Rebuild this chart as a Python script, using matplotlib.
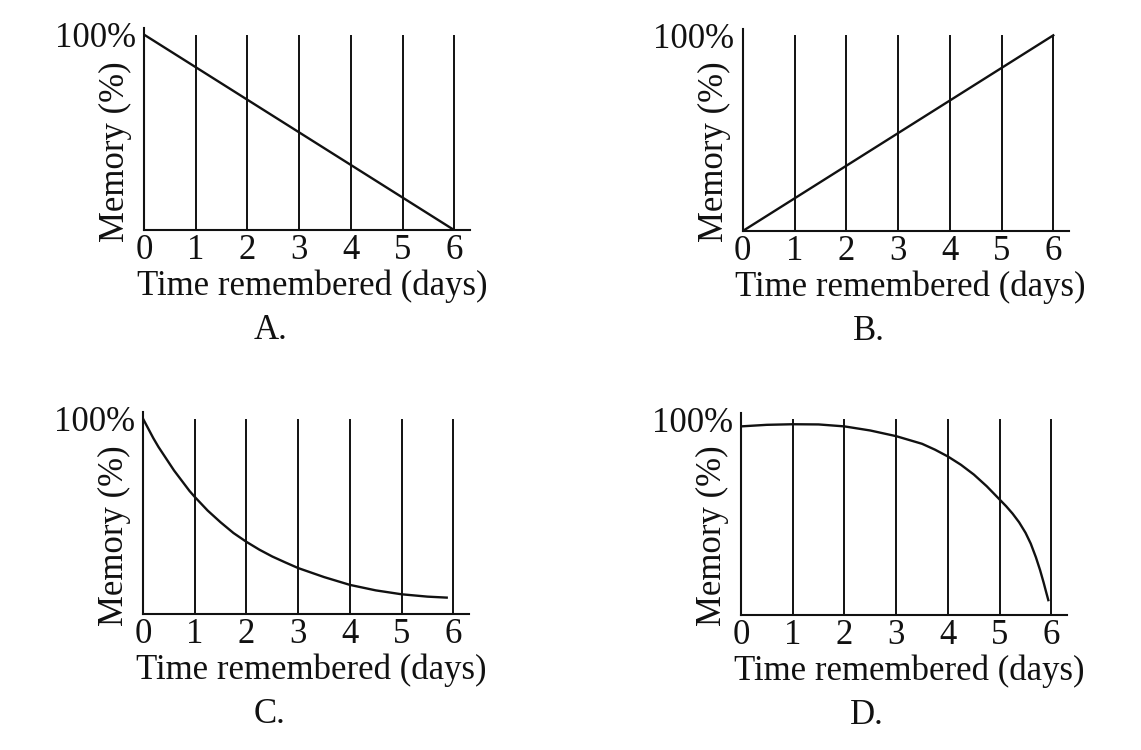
import numpy as np
import matplotlib
matplotlib.use("Agg")
from matplotlib import pyplot as plt

plt.rcParams['font.family'] = ['Liberation Serif', 'DejaVu Serif']

# values (memory in % against days)
days = [0, 1, 2, 3, 4, 5, 6]
day_labels = ['0', '1', '2', '3', '4', '5', '6']

a_x = [0, 6]
a_y = [100, 0]

b_x = [0, 6]
b_y = [0, 100]

c_x = [0, 0.1, 0.2, 0.3, 0.4, 0.5, 0.6, 0.7, 0.8, 0.9, 1, 1.25, 1.5, 1.75,
       2, 2.25, 2.5, 2.75, 3, 3.5, 4, 4.5, 5, 5.5, 5.87]
c_y = [100, 95, 90, 85.5, 81.5, 77.5, 73.5, 70, 66.5, 63, 60, 53, 47, 41.5,
       37, 33, 29.5, 26.5, 23.6, 19, 15, 12.2, 10.2, 9, 8.5]

d_x = [0, 0.5, 1, 1.5, 2, 2.5, 3, 3.5, 3.75, 4, 4.25, 4.5, 4.75, 5, 5.125,
       5.25, 5.375, 5.5, 5.6, 5.7, 5.78, 5.85, 5.9, 5.94]
d_y = [96.4, 97.2, 97.5, 97.4, 96.4, 94.3, 91.4, 87.5, 84.5, 81, 76.8, 71.8,
       65.8, 59, 55.6, 51.8, 47.4, 42, 36.5, 29.5, 23, 16.5, 11.5, 7.6]

panels = [
    ('A.', a_x, a_y, [0.1262, 0.693]),
    ('B.', b_x, b_y, [0.651, 0.692]),
    ('C.', c_x, c_y, [0.1253, 0.181]),
    ('D.', d_x, d_y, [0.6494, 0.180]),
]

fs = 25
ink = '#111111'
fig = plt.figure(figsize=(11.41, 7.5), dpi=100)

for name, x, y, pos in panels:
    ax = fig.add_axes([pos[0], pos[1], 0.2857, 0.27])
    ax.set_xlim(0, 6.3)
    ax.set_ylim(0, 103.5)
    ax.spines['top'].set_visible(False)
    ax.spines['right'].set_visible(False)
    ax.spines['left'].set_linewidth(1.5)
    ax.spines['bottom'].set_linewidth(1.5)
    ax.spines['left'].set_color(ink)
    ax.spines['bottom'].set_color(ink)
    ax.vlines(days[1:], 0, 100, color=ink, linewidth=1.4)
    ax.plot(x, y, color=ink, linewidth=1.7, solid_joinstyle='round')
    ax.set_xticks(days)
    ax.set_xticklabels(day_labels)
    ax.set_yticks([100])
    ax.set_yticklabels(['100%'])
    ax.tick_params(length=0, labelsize=fs, colors=ink)
    ax.tick_params(axis='x', pad=3)
    ax.tick_params(axis='y', pad=6)
    ax.text(0.515, -0.278, 'Time remembered (days)', transform=ax.transAxes,
            ha='center', va='center', fontsize=fs, color=ink)
    ax.text(-0.088, 0.39, 'Memory (%)', transform=ax.transAxes, rotation=90,
            ha='center', va='center', fontsize=fs, color=ink)
    ax.text(0.387, -0.497, name, transform=ax.transAxes,
            ha='center', va='center', fontsize=fs, color=ink)

plt.savefig('out.png', dpi=100)
